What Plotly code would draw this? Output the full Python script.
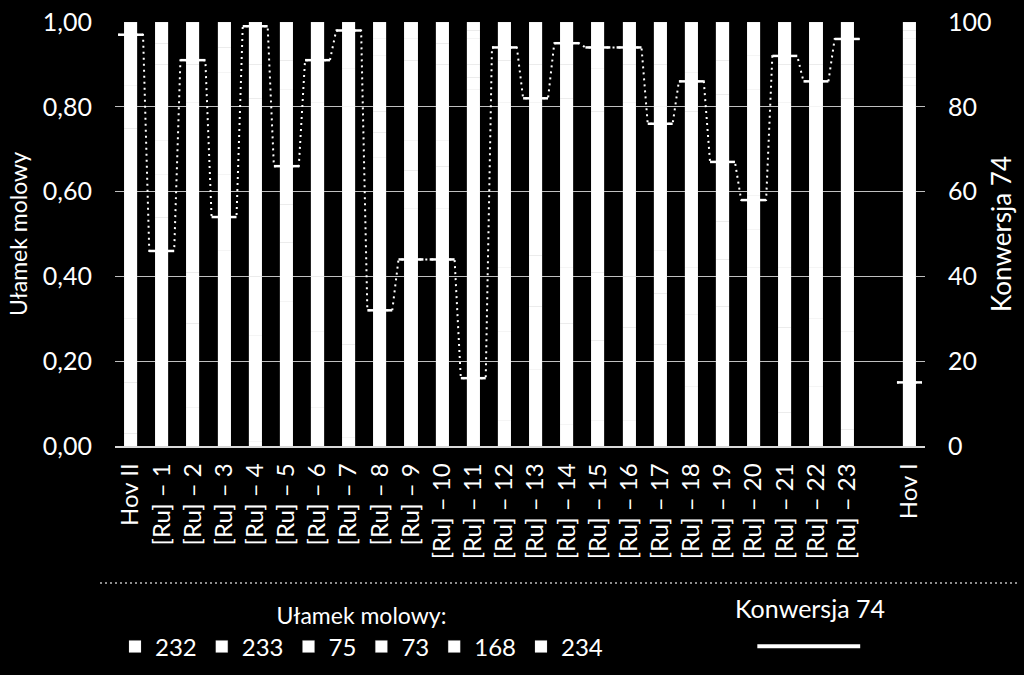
import plotly.graph_objects as go

# kategorie (pusta pozycja przed Hov I)
categories = ["Hov II"] + [f"[Ru] – {i}" for i in range(1, 24)] + ["", "Hov I"]

# ułamki molowe (stos do 1,00)
s232 = [0.03, 0.54, 0.09, 0.46, 0.01, 0.34, 0.09, 0.02, 0.68, 0.56, 0.56, 0.84, 0.06,
        0.18, 0.05, 0.06, 0.06, 0.24, 0.14, 0.33, 0.42, 0.08, 0.14, 0.04, None, 0.85]
s233 = [0.12, 0.10, 0.20, 0.08, 0.25, 0.14, 0.18, 0.22, 0.06, 0.09, 0.10, 0.03, 0.21,
        0.15, 0.24, 0.19, 0.22, 0.12, 0.17, 0.11, 0.09, 0.20, 0.16, 0.23, None, 0.02]
s75 = [0.15, 0.08, 0.12, 0.10, 0.14, 0.09, 0.13, 0.16, 0.05, 0.07, 0.06, 0.03, 0.15,
       0.12, 0.13, 0.16, 0.12, 0.10, 0.11, 0.09, 0.08, 0.14, 0.12, 0.15, None, 0.03]
s73 = [0.45, 0.18, 0.40, 0.24, 0.42, 0.27, 0.41, 0.40, 0.13, 0.19, 0.18, 0.06, 0.39,
       0.36, 0.40, 0.38, 0.41, 0.34, 0.37, 0.30, 0.25, 0.39, 0.38, 0.40, None, 0.06]
s168 = [0.10, 0.05, 0.09, 0.06, 0.08, 0.07, 0.10, 0.09, 0.04, 0.05, 0.05, 0.02, 0.10,
        0.09, 0.08, 0.10, 0.09, 0.10, 0.09, 0.08, 0.08, 0.09, 0.10, 0.08, None, 0.02]
s234 = [0.15, 0.05, 0.10, 0.06, 0.10, 0.09, 0.09, 0.11, 0.04, 0.04, 0.05, 0.02, 0.09,
        0.10, 0.10, 0.11, 0.10, 0.10, 0.12, 0.09, 0.08, 0.10, 0.10, 0.10, None, 0.02]

# konwersja 74 [%]
konwersja = [97, 46, 91, 54, 99, 66, 91, 98, 32, 44, 44, 16, 94, 82, 95, 94, 94,
             76, 86, 67, 58, 92, 86, 96, None, 15]

series = [("232", s232), ("233", s233), ("75", s75), ("73", s73), ("168", s168), ("234", s234)]

FONT = "Lato"
x_idx = list(range(len(categories)))

fig = go.Figure()
for name, vals in series:
    fig.add_trace(go.Bar(
        x=x_idx, y=vals, name=name, width=0.42,
        marker=dict(color="white", line=dict(color="rgba(200,200,200,0.35)", width=0.5)),
    ))

# linia konwersji: kreski na kategoriach + kropkowane połączenia
half = 0.4
dot_x, dot_y, seg_x, seg_y = [], [], [], []
for i, v in zip(x_idx, konwersja):
    dot_x += [i - half, i + half]
    dot_y += [v, v]
    seg_x += [i - half, i + half, None]
    seg_y += [v, v, None]

fig.add_trace(go.Scatter(
    x=dot_x, y=dot_y, mode="lines", yaxis="y2", showlegend=False,
    line=dict(color="white", width=2, dash="2px,4px"), connectgaps=False,
))
fig.add_trace(go.Scatter(
    x=seg_x, y=seg_y, mode="lines", yaxis="y2", showlegend=False,
    line=dict(color="white", width=2.5), connectgaps=False,
))

fig.update_layout(
    width=1024, height=675,
    barmode="stack",
    paper_bgcolor="black", plot_bgcolor="black",
    font=dict(family=FONT, color="white", size=20),
    separators=", ",
    margin=dict(l=115, r=99, t=22, b=229, autoexpand=False),
    xaxis=dict(
        range=[-0.5, len(categories) - 0.5],
        tickmode="array", tickvals=x_idx, ticktext=categories,
        tickangle=-90, tickfont=dict(size=24), ticklabelstandoff=6,
        showgrid=False, zeroline=False,
        showline=True, linecolor="#d9d9d9", linewidth=1.5,
        ticks="",
    ),
    yaxis=dict(
        range=[0, 1], dtick=0.2, tickformat=".2f",
        gridcolor="#bfbfbf", gridwidth=1, zeroline=False,
        tickfont=dict(size=25), ticklabelstandoff=22,
        title=dict(text="Ułamek molowy", standoff=8, font=dict(size=23)),
        ticks="",
    ),
    yaxis2=dict(
        range=[0, 100], dtick=20, overlaying="y", side="right",
        showgrid=False, zeroline=False,
        tickfont=dict(size=25), ticklabelstandoff=22,
        title=dict(text="Konwersja 74", standoff=2, font=dict(size=26)),
        ticks="",
    ),
    legend=dict(
        orientation="h", x=0.0, y=-0.35, xanchor="left", yanchor="top",
        title=dict(text="Ułamek molowy:", side="top center", font=dict(size=23)),
        bgcolor="rgba(0,0,0,0)", font=dict(size=24),
        itemwidth=30, traceorder="normal",
    ),
    shapes=[
        dict(type="line", xref="paper", yref="paper", x0=-0.0185, x1=1.117,
             y0=-0.323, y1=-0.323, line=dict(color="#bfbfbf", width=1.5, dash="2px,3px")),
        dict(type="line", xref="paper", yref="paper", x0=0.793, x1=0.920,
             y0=-0.472, y1=-0.472, line=dict(color="white", width=4)),
    ],
    annotations=[
        dict(text="Konwersja 74", xref="paper", yref="paper", x=0.858, y=-0.382,
             xanchor="center", yanchor="middle",
             showarrow=False, font=dict(size=25, color="white")),
    ],
)

fig.write_html(
    "out.html",
    config={"displayModeBar": False},
    post_script="document.body.style.margin='0';document.body.style.overflow='hidden';",
)
